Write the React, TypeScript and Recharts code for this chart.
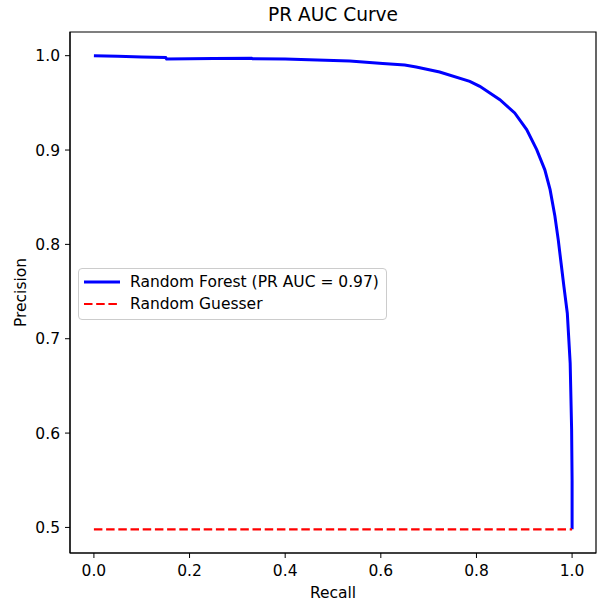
import { Label, Line, LineChart, ReferenceArea, XAxis, YAxis } from "recharts";

// PR curve points
const forestRecall = [
  0, 0.05, 0.1, 0.15, 0.152, 0.25, 0.33, 0.332, 0.4, 0.45, 0.535, 0.604, 0.65,
  0.674, 0.723, 0.786, 0.807, 0.849, 0.88, 0.905, 0.926, 0.943, 0.954, 0.964,
  0.971, 0.977, 0.983, 0.99, 0.996, 0.999, 1.0, 1.0,
];
const forestPrecision = [
  1.0, 0.9993, 0.9986, 0.998, 0.9966, 0.9971, 0.9972, 0.9967, 0.9966, 0.9958,
  0.9944, 0.9918, 0.9902, 0.988, 0.9827, 0.9728, 0.9675, 0.9534, 0.9393,
  0.9216, 0.9004, 0.879, 0.858, 0.83, 0.805, 0.78, 0.755, 0.727, 0.674, 0.604,
  0.55, 0.498,
];

const guessRecall = [0, 1];
const guessPrecision = [0.498, 0.498];

const xTicks = [0, 0.2, 0.4, 0.6, 0.8, 1.0];
const yTicks = [0.5, 0.6, 0.7, 0.8, 0.9, 1.0];
const xDomain = [-0.05, 1.05];
const yDomain = [0.4729, 1.0251];

const forestLabel = "Random Forest (PR AUC = 0.97)";
const guessLabel = "Random Guesser";

const forestData = forestRecall.map((r, i) => ({ recall: r, precision: forestPrecision[i] }));
const guessData = guessRecall.map((r, i) => ({ recall: r, precision: guessPrecision[i] }));

const FONT = "'DejaVu Sans', sans-serif";
const FS = 15.5;
const tickStyle = { fill: "#000", fontSize: FS, fontFamily: FONT };

function LegendBox() {
  const row = { display: "flex", alignItems: "center", height: 22 };
  return (
    <div
      style={{
        position: "absolute",
        left: 78,
        top: 268,
        width: 307,
        height: 48,
        boxSizing: "content-box",
        background: "rgba(255,255,255,0.8)",
        border: "1px solid #cccccc",
        borderRadius: 4,
        fontFamily: FONT,
        fontSize: FS,
        color: "#000",
        paddingTop: 2,
      }}
    >
      <div style={row}>
        <svg width={36} height={10} style={{ marginLeft: 5, marginRight: 10 }}>
          <line x1={0} y1={5} x2={36} y2={5} stroke="#0000ff" strokeWidth={3} />
        </svg>
        {forestLabel}
      </div>
      <div style={row}>
        <svg width={36} height={10} style={{ marginLeft: 5, marginRight: 10 }}>
          <line x1={0} y1={5} x2={36} y2={5} stroke="#ff0000" strokeWidth={2.2} strokeDasharray="8.5 3.7" />
        </svg>
        {guessLabel}
      </div>
    </div>
  );
}

export default function App() {
  return (
    <div style={{ position: "absolute", left: 0, top: 0, width: 599, height: 602, background: "#fff" }}>
      <div
        style={{
          position: "absolute",
          left: 70,
          width: 526,
          top: 4,
          textAlign: "center",
          fontFamily: FONT,
          fontSize: 18.6,
          color: "#000",
        }}
      >
        PR AUC Curve
      </div>
      <LineChart width={599} height={602} margin={{ top: 32, right: 3, left: 0, bottom: 0 }}>
        <XAxis
          dataKey="recall"
          type="number"
          domain={xDomain}
          ticks={xTicks}
          tickFormatter={(v: number) => v.toFixed(1)}
          tick={tickStyle}
          tickSize={5}
          tickMargin={7}
          height={49}
          stroke="#000"
          allowDataOverflow
        >
          <Label value="Recall" position="insideBottom" offset={4} style={{ fill: "#000", fontSize: FS, fontFamily: FONT }} />
        </XAxis>
        <YAxis
          dataKey="precision"
          type="number"
          domain={yDomain}
          ticks={yTicks}
          tickFormatter={(v: number) => v.toFixed(1)}
          tick={tickStyle}
          tickSize={5}
          tickMargin={5}
          width={70}
          stroke="#000"
          allowDataOverflow
        >
          <Label value="Precision" position="center" angle={-90} dx={-15} style={{ fill: "#000", fontSize: FS, fontFamily: FONT, textAnchor: "middle" }} />
        </YAxis>
        <ReferenceArea
          x1={xDomain[0]}
          x2={xDomain[1]}
          y1={yDomain[0]}
          y2={yDomain[1]}
          fill="none"
          stroke="#000"
          strokeWidth={1.2}
          ifOverflow="extendDomain"
        />
        <Line
          data={forestData}
          dataKey="precision"
          type="linear"
          stroke="#0000ff"
          strokeWidth={3}
          dot={false}
          isAnimationActive={false}
        />
        <Line
          data={guessData}
          dataKey="precision"
          type="linear"
          stroke="#ff0000"
          strokeWidth={2.2}
          strokeDasharray="8.5 3.7"
          dot={false}
          isAnimationActive={false}
        />
      </LineChart>
      <LegendBox />
    </div>
  );
}
